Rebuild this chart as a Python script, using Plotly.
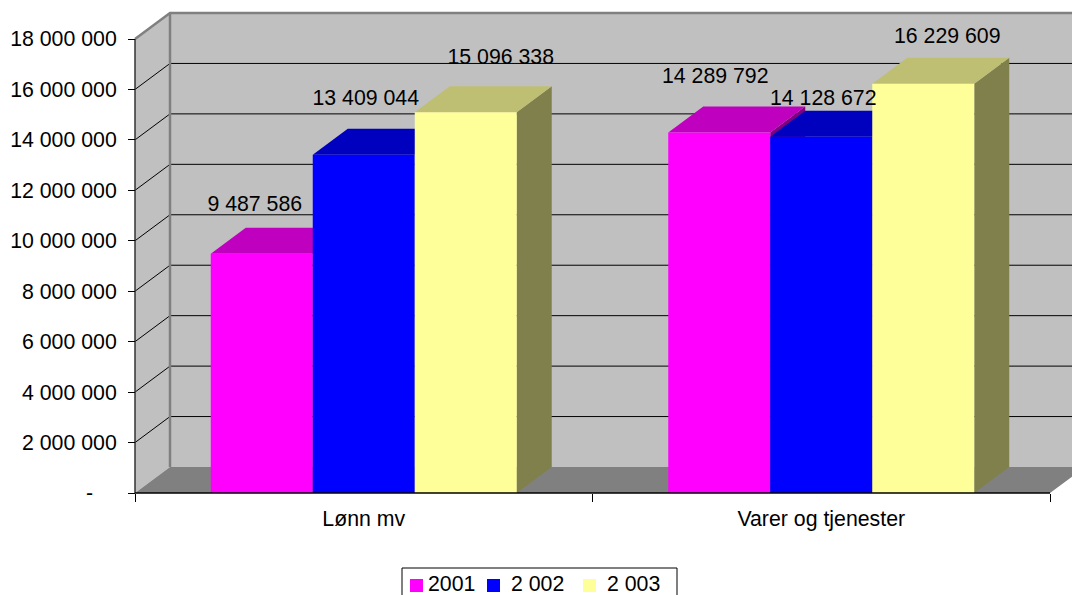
import plotly.graph_objects as go

categories = ["Lønn mv", "Varer og tjenester"]
series_names = ["2001", "2 002", "2 003"]
values_2001 = [9487586, 14289792]
values_2002 = [13409044, 14128672]
values_2003 = [15096338, 16229609]
tick_values = [0, 2000000, 4000000, 6000000, 8000000, 10000000, 12000000, 14000000, 16000000, 18000000]
tick_labels = ["-\u00a0\u00a0\u00a0\u00a0", "2 000 000", "4 000 000", "6 000 000", "8 000 000", "10 000 000",
               "12 000 000", "14 000 000", "16 000 000", "18 000 000"]
value_labels = [["9 487 586", "14 289 792"], ["13 409 044", "14 128 672"], ["15 096 338", "16 229 609"]]

series_values = [values_2001, values_2002, values_2003]
front_colors = ["#FF00FF", "#0000FF", "#FFFF99"]
top_colors = ["#BF00BF", "#0000BF", "#BFBF73"]
side_colors = ["#800080", "#000080", "#80804D"]

W, H = 1072, 595
L, T, B = 135, 39, 493
CAT_PX = 457.5
Y_MAX = 18000000
PX_Y = Y_MAX / (B - T)
DX = 35 / CAT_PX
DY = 26 * PX_Y
X_LOW, X_END = -L / CAT_PX, (W - L) / CAT_PX
Y_LOW, Y_END = (B - H) * PX_Y, B * PX_Y
BAR_W = 102 / CAT_PX
FONT = "Liberation Sans"
FS = 21.3

# label offsets from the bar's front-top centre, in pixels
label_dx = [[-7, -4], [2, 2], [35, 24]]
label_dy = [[-48, -55], [-55, -37], [-54, -46]]

# legend placement, in pixels
legend_swatch_px = [416.5, 493.5, 589.5]
legend_text_px = [428, 511, 607]
legend_box_px = [402, 568, 677, 600]
legend_y_px = 585.5

fig = go.Figure()


def poly(xs, ys, color):
    fig.add_trace(go.Scatter(x=xs, y=ys, mode="lines", fill="toself", fillcolor=color,
                             line=dict(width=0, color=color), hoverinfo="skip", showlegend=False))


def path(xs, ys, color, width):
    fig.add_trace(go.Scatter(x=xs, y=ys, mode="lines", line=dict(width=width, color=color),
                             hoverinfo="skip", showlegend=False))


def px_x(p):
    return (p - L) / CAT_PX


def px_y(p):
    return (B - p) * PX_Y


# walls
poly([0, DX, DX, 0, 0], [0, DY, Y_MAX + DY, Y_MAX, 0], "#C0C0C0")
poly([DX, X_END, X_END, DX, DX], [DY, DY, Y_MAX + DY, Y_MAX + DY, DY], "#C0C0C0")

# gridlines on both walls
gx, gy = [], []
for v in tick_values[1:-1]:
    gx += [0, DX, X_END, None]
    gy += [v, v + DY, v + DY, None]
path(gx, gy, "#000000", 1)

# wall edges
path([0, DX, X_END], [Y_MAX, Y_MAX + DY, Y_MAX + DY], "#808080", 2.5)
path([DX, DX], [DY, Y_MAX + DY], "#808080", 2.5)

# floor
poly([0, 2, 2 + DX, X_END, X_END, DX, 0], [0, 0, DY, DY, DY, DY, 0], "#808080")

# front-left wall edge
path([0, 0], [0, Y_MAX], "#333333", 1.5)

# depth faces of the bars, back to front in series order
for s, vals in enumerate(series_values):
    left = [i + 0.5 + (s - 1.5) * BAR_W for i in range(2)]
    sx, sy, tx, ty = [], [], [], []
    for x0, v in zip(left, vals):
        x1 = x0 + BAR_W
        sx += [x1, x1 + DX, x1 + DX, x1, x1, None]
        sy += [0, DY, v + DY, v, 0, None]
        tx += [x0, x1, x1 + DX, x0 + DX, x0, None]
        ty += [v, v, v + DY, v + DY, v, None]
    poly(sx, sy, side_colors[s])
    poly(tx, ty, top_colors[s])

# front faces
for s, vals in enumerate(series_values):
    fig.add_trace(go.Bar(x=[0.5, 1.5], y=vals, name=series_names[s],
                         marker=dict(color=front_colors[s], line=dict(width=0)),
                         xaxis="x2", yaxis="y2", hovertext=categories, showlegend=False))

# baseline
fig.add_trace(go.Scatter(x=[0, 2], y=[0, 0], mode="lines", line=dict(color="#000000", width=1.5),
                         xaxis="x2", yaxis="y2", showlegend=False, hoverinfo="skip"))

# data labels
lx, ly, lt = [], [], []
for s, vals in enumerate(series_values):
    for i, v in enumerate(vals):
        lx.append(i + 0.5 + (s - 1) * BAR_W + label_dx[s][i] / CAT_PX)
        ly.append(v - label_dy[s][i] * PX_Y)
        lt.append(value_labels[s][i])
fig.add_trace(go.Scatter(x=lx, y=ly, text=lt, mode="text", textposition="middle center",
                         textfont=dict(family=FONT, size=FS, color="#000000"),
                         xaxis="x2", yaxis="y2", showlegend=False, hoverinfo="skip"))

# legend entries
for s, name in enumerate(series_names):
    fig.add_trace(go.Scatter(x=[px_x(legend_swatch_px[s])], y=[px_y(legend_y_px)], mode="markers",
                             marker=dict(symbol="square", size=13, color=front_colors[s], line=dict(width=0)),
                             xaxis="x2", yaxis="y2", showlegend=False, hoverinfo="skip"))
    fig.add_trace(go.Scatter(x=[px_x(legend_text_px[s])], y=[px_y(legend_y_px)], mode="text", text=[name],
                             textposition="middle right", textfont=dict(family=FONT, size=FS, color="#000000"),
                             xaxis="x2", yaxis="y2", showlegend=False, hoverinfo="skip"))

x_axis_pos = (H - B) / H
y_axis_pos = L / W

fig.update_layout(
    width=W, height=H,
    margin=dict(l=0, r=0, t=0, b=0, pad=0, autoexpand=False),
    paper_bgcolor="#FFFFFF", plot_bgcolor="rgba(0,0,0,0)",
    font=dict(family=FONT, size=FS, color="#000000"),
    barmode="group", bargap=1 - 3 * BAR_W, bargroupgap=0,
    showlegend=False,
    shapes=[dict(type="rect", layer="below", xref="x", yref="y",
                 x0=px_x(legend_box_px[0]), x1=px_x(legend_box_px[2]),
                 y0=px_y(legend_box_px[1]), y1=px_y(legend_box_px[3]),
                 fillcolor="#FFFFFF", line=dict(color="#000000", width=1))],
    xaxis=dict(range=[X_LOW, X_END], domain=[0, 1], anchor="free", position=x_axis_pos,
               tickvals=[0, 1, 2], ticktext=["", "", ""], ticks="outside", ticklen=8,
               tickcolor="#000000", tickwidth=1, showgrid=False, zeroline=False, showline=False),
    yaxis=dict(range=[Y_LOW, Y_END], domain=[0, 1], anchor="free", position=y_axis_pos,
               tickvals=tick_values, ticktext=tick_labels, ticks="outside", ticklen=7,
               tickcolor="#000000", tickwidth=1, showgrid=False, zeroline=False, showline=False,
               ticklabelstandoff=7),
    xaxis2=dict(range=[X_LOW, X_END], domain=[0, 1], overlaying="x", anchor="free", position=x_axis_pos,
                tickvals=[0.5, 1.5], ticktext=categories,
                ticks="", showgrid=False, zeroline=False, showline=False, ticklabelstandoff=11),
    yaxis2=dict(range=[Y_LOW, Y_END], domain=[0, 1], overlaying="y", anchor="free", position=y_axis_pos,
                showticklabels=False, ticks="", showgrid=False, zeroline=False, showline=False),
)

fig.write_html("out.html", post_script="document.body.style.margin='0';", config={"displayModeBar": False})
